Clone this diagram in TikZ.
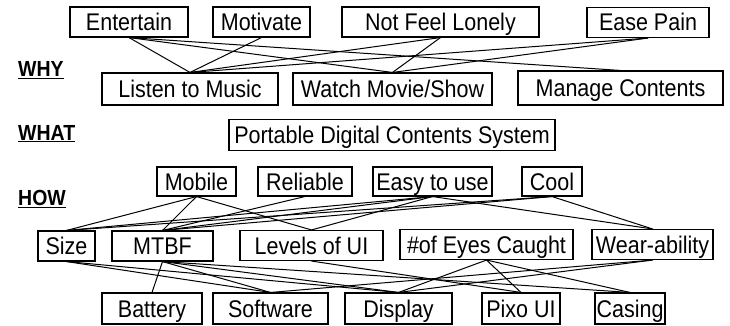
\documentclass[tikz,border=0pt]{standalone}
\usepackage{fontspec}
\setmainfont{Liberation Sans}
% slightly tall lettering, as in the boxes
\newcommand{\tall}[1]{\scalebox{1}[1.12]{#1}}
\begin{document}
\begin{tikzpicture}[x={(1pt,0pt)}, y={(0pt,-1pt)},
  box/.style={draw=black, line width=1.1pt, inner sep=0pt, minimum height=30pt,
    text height=17pt, text depth=0pt, font=\fontsize{21.5}{24}\selectfont},
  tag/.style={anchor=base west, inner sep=0pt, font=\fontsize{19.5}{22}\selectfont\bfseries},
  link/.style={line width=1pt}]
\useasboundingbox (0,0) rectangle (730,326);

% WHY: goals
\node[box, minimum width=118pt] (ent)  at (129,22)   {\tall{Entertain}};
\node[box, minimum width=97pt]  (mot)  at (261.5,22) {\tall{Motivate}};
\node[box, minimum width=197pt] (nfl)  at (440.5,22) {\tall{Not Feel Lonely}};
\node[box, minimum width=122pt] (ease) at (648,22.5) {\tall{Ease Pain}};

\node[box, minimum width=176pt, minimum height=32pt] (lis) at (190,89)   {\tall{Listen to Music}};
\node[box, minimum width=199pt, minimum height=32pt] (wat) at (392.5,89) {\tall{Watch Movie/Show}};
\node[box, minimum width=205pt, minimum height=34pt] (man) at (620.5,88) {\tall{Manage Contents}};

% WHAT
\node[box, minimum width=326pt, minimum height=31pt] (sys) at (392,135) {\tall{Portable Digital Contents System}};

% HOW: attributes
\node[box, minimum width=79pt,  minimum height=29pt] (mob)  at (196.5,181.5) {\tall{Mobile}};
\node[box, minimum width=94pt,  minimum height=29pt] (rel)  at (305,181.5)   {\tall{Reliable}};
\node[box, minimum width=119pt, minimum height=29pt] (easy) at (432.5,181.5) {\tall{Easy to use}};
\node[box, minimum width=60pt,  minimum height=29pt] (cool) at (552,181.5)   {\tall{Cool}};

\node[box, minimum width=57pt]  (size) at (66.5,246)  {\tall{Size}};
\node[box, minimum width=101pt] (mtbf) at (162.5,246) {\tall{MTBF}};
\node[box, minimum width=143pt] (lev)  at (311.5,245.5) {\tall{Levels of UI}};
\node[box, minimum width=173pt] (eyes) at (486.5,244.5) {\tall{\#of Eyes Caught}};
\node[box, minimum width=121pt] (wear) at (652.5,244.5) {\tall{Wear-ability}};

\node[box, minimum width=100pt, minimum height=31pt] (bat)  at (152,308.5)   {\tall{Battery}};
\node[box, minimum width=115pt, minimum height=31pt] (soft) at (270.5,308.5) {\tall{Software}};
\node[box, minimum width=107pt, minimum height=31pt] (disp) at (398.5,308.5) {\tall{Display}};
\node[box, minimum width=78pt,  minimum height=31pt] (pixo) at (521,308.5)   {\tall{Pixo UI}};
\node[box, minimum width=70pt,  minimum height=31pt] (cas)  at (630,308.5)   {\tall{Casing}};

% row labels
\node[tag] (why)  at (18,77)  {\tall{\underline{WHY}}};
\node[tag] (what) at (18,140) {\tall{\underline{WHAT}}};
\node[tag] (how)  at (18,205) {\tall{\underline{HOW}}};

% goal links
\foreach \a/\b in {ent/lis, ent/wat, ent/man, mot/lis, nfl/lis, nfl/wat, ease/lis, ease/wat}
  \draw[link] (\a.south) -- (\b.north);

% attribute links
\foreach \a/\b in {mob/size, mob/mtbf, mob/lev, rel/mtbf, easy/size, easy/mtbf, easy/lev,
                   easy/wear, cool/size, cool/mtbf, cool/wear}
  \draw[link] (\a.south) -- (\b.north);

% component links
\foreach \a/\b in {size/soft, size/disp, mtbf/bat, mtbf/soft, mtbf/disp, mtbf/cas,
                   lev/pixo, eyes/disp, eyes/pixo, eyes/cas, wear/soft, wear/disp}
  \draw[link] (\a.south) -- (\b.north);
\end{tikzpicture}
\end{document}
